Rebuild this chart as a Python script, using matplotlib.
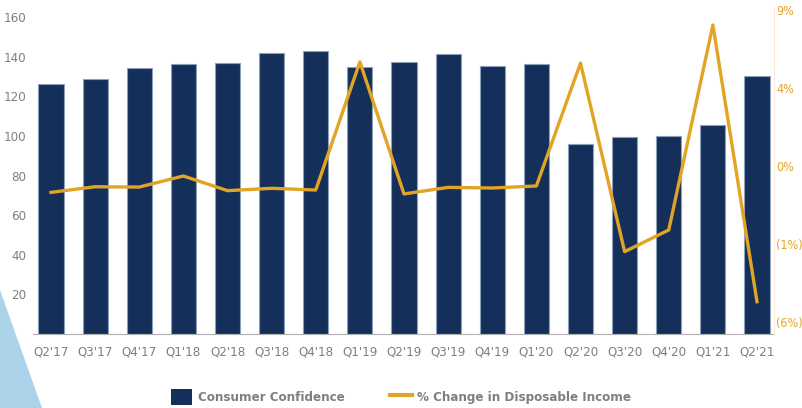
import matplotlib.pyplot as plt
from matplotlib.patches import Polygon
from matplotlib.lines import Line2D
from matplotlib.patches import Patch

# quarters on the x axis
quarters = ["Q2'17", "Q3'17", "Q4'17", "Q1'18", "Q2'18", "Q3'18", "Q4'18",
            "Q1'19", "Q2'19", "Q3'19", "Q4'19", "Q1'20", "Q2'20", "Q3'20",
            "Q4'20", "Q1'21", "Q2'21"]

# consumer confidence (left axis)
confidence = [126.2, 128.6, 134.4, 136.1, 136.9, 142.0, 143.0, 134.6, 137.3,
              141.3, 135.4, 136.1, 95.8, 99.4, 99.8, 105.7, 130.4]

# % change in disposable income (right axis, in tick units)
income = [-2.69, -2.33, -2.35, -1.64, -2.58, -2.43, -2.54, 5.67, -2.79,
          -2.37, -2.41, -2.28, 5.60, -6.49, -5.10, 8.04, -9.70]

left_ticks = [20, 40, 60, 80, 100, 120, 140, 160]
right_ticks = [9, 4, -1, -6, -11]
right_labels = ["9%", "4%", "0%", "(1%)", "(6%)"]

navy = "#14305a"
gold = "#e1a425"
grey = "#7f7f7f"
font = ["DejaVu Sans"]
plt.rcParams['font.family'] = font
plt.rcParams['font.stretch'] = 'condensed'

fig = plt.figure(figsize=(8.02, 4.08), dpi=100)

# light blue corner decoration
fig.patches.append(Polygon([[0, 1 - 290 / 408], [42 / 802, 0], [0, 0]],
                           closed=True, transform=fig.transFigure,
                           facecolor="#acd3ea", edgecolor="none", zorder=0))

ax = fig.add_axes([33 / 802, 1 - 334 / 408, (774 - 33) / 802, 326 / 408])
ax.patch.set_alpha(0)
x = list(range(len(quarters)))
ax.bar(x, confidence, width=0.57, color=navy, edgecolor="#8fa0ba",
       linewidth=0.8, zorder=2)
ax.set_xlim(-0.408, 16.385)
ax.set_ylim(0, 164.6)
ax.set_yticks(left_ticks)
ax.set_xticks(x)
ax.set_xticklabels(quarters)
ax.tick_params(axis='y', length=0, pad=5, labelcolor=grey, labelsize=9.5)
ax.tick_params(axis='x', length=0, pad=8, labelcolor=grey, labelsize=9.5)
for s in ["top", "left", "right"]:
    ax.spines[s].set_visible(False)
ax.spines["bottom"].set_color("#b0b0b0")
ax.spines["bottom"].set_linewidth(0.8)

ax2 = ax.twinx()
ax2.plot(x, income, color=gold, linewidth=2.4, zorder=3)
ax2.set_ylim(-11.77, 9.13)
ax2.set_yticks(right_ticks)
ax2.set_yticklabels(right_labels)
ax2.tick_params(axis='y', length=0, pad=1.5, labelcolor=gold, labelsize=9)
for s in ["top", "left", "bottom"]:
    ax2.spines[s].set_visible(False)
ax2.spines["right"].set_color("#fbe9d6")
ax2.spines["right"].set_linewidth(0.8)

handles = [Patch(facecolor=navy, edgecolor="none"),
           Line2D([0], [0], color=gold, linewidth=3)]
fig.legend(handles, ["Consumer Confidence", "% Change in Disposable Income"],
           loc="center", bbox_to_anchor=(0.5, 1 - 397 / 408), ncol=2,
           frameon=False,
           prop={'family': font, 'weight': 'bold', 'size': 9.5,
                 'stretch': 'condensed'},
           labelcolor=grey, handlelength=1.6, handleheight=1.6,
           columnspacing=3.5, handletextpad=0.4)

fig.savefig("out.png", dpi=100)
